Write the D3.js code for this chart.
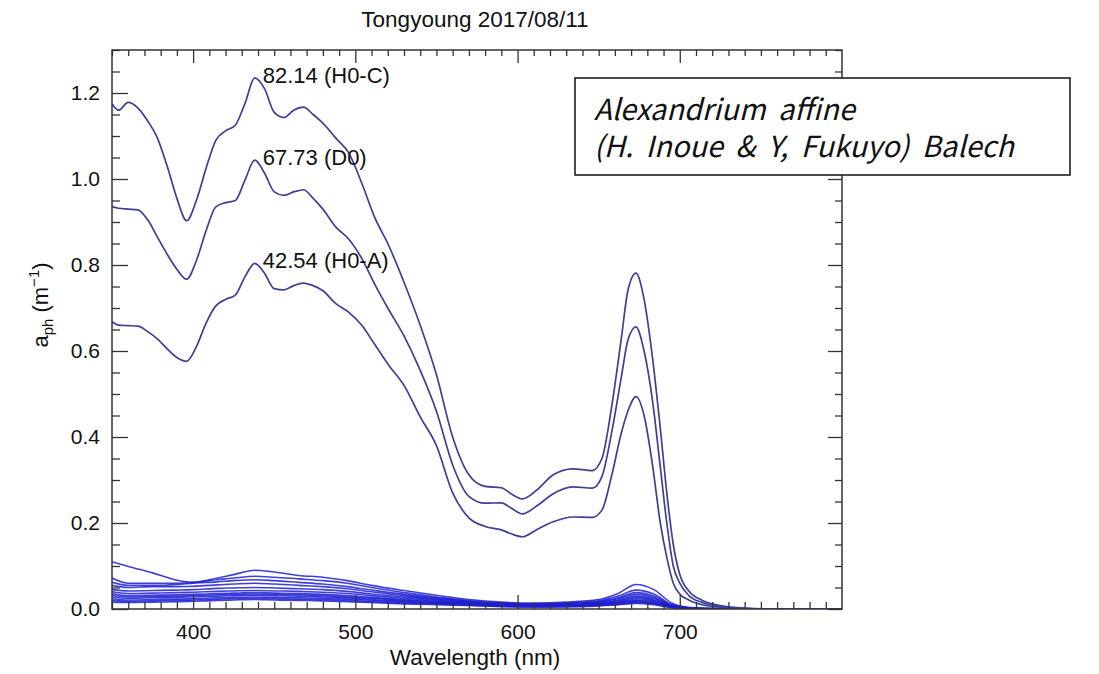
<!DOCTYPE html>
<html>
<head>
<meta charset="utf-8">
<script src="https://cdn.jsdelivr.net/npm/d3@7"></script>
<style>
body { margin: 0; background: #fff; }
text { font-family: "Liberation Sans", Arial, Helvetica, sans-serif; fill: #111; }
.tick line { stroke: #333; stroke-width: 1.3; }
</style>
</head>
<body>
<div id="chart"></div>
<script>
// wavelength grid (nm) used by the three big spectra
const wavelengths = [350,354,360,366,372,378,384,390,396,402,408,414,420,426,432,438,444,450,456,462,468,474,480,488,496,504,512,520,530,540,550,560,570,580,590,596,603,612,622,634,646,652,658,664,668,673,678,683,688,692,696,700,706,714,725,740,760,800];

// a_ph values
const h0c = [1.175,1.16,1.178,1.165,1.135,1.095,1.03,0.955,0.903,0.95,1.025,1.09,1.112,1.125,1.176,1.235,1.21,1.155,1.143,1.16,1.167,1.15,1.13,1.095,1.06,0.99,0.91,0.85,0.76,0.66,0.545,0.40,0.312,0.285,0.282,0.268,0.256,0.277,0.312,0.326,0.322,0.35,0.47,0.63,0.74,0.781,0.72,0.59,0.42,0.27,0.15,0.08,0.04,0.02,0.008,0.002,0,0];
const d0 = [0.936,0.932,0.93,0.928,0.905,0.865,0.825,0.79,0.767,0.81,0.88,0.935,0.945,0.95,0.998,1.044,1.014,0.97,0.962,0.97,0.975,0.955,0.93,0.888,0.86,0.815,0.755,0.70,0.635,0.555,0.46,0.335,0.262,0.246,0.247,0.235,0.221,0.24,0.268,0.284,0.281,0.308,0.41,0.54,0.625,0.656,0.60,0.49,0.33,0.2,0.1,0.06,0.03,0.015,0.006,0.001,0,0];
const h0a = [0.668,0.66,0.659,0.658,0.645,0.628,0.605,0.585,0.576,0.61,0.665,0.705,0.72,0.73,0.773,0.804,0.781,0.745,0.742,0.752,0.758,0.752,0.74,0.71,0.69,0.66,0.615,0.57,0.52,0.447,0.38,0.27,0.212,0.192,0.184,0.175,0.168,0.185,0.203,0.214,0.213,0.23,0.31,0.41,0.46,0.494,0.45,0.34,0.2,0.12,0.06,0.035,0.02,0.01,0.004,0.001,0,0];
const bigSeries = [h0c, d0, h0a];
const bigLabels = ["82.14 (H0-C)", "67.73 (D0)", "42.54 (H0-A)"];

// the low-concentration stations
const lowWavelengths = [350,360,375,390,400,415,425,438,450,465,480,495,510,530,550,570,590,610,630,650,662,673,684,695,705,720,750,800];
const lowSeries = [
  [0.110,0.099,0.084,0.067,0.062,0.072,0.080,0.090,0.086,0.078,0.074,0.066,0.055,0.043,0.032,0.022,0.016,0.014,0.016,0.022,0.036,0.057,0.045,0.014,0.004,0.001,0,0],
  [0.072,0.060,0.060,0.060,0.062,0.068,0.072,0.076,0.074,0.070,0.066,0.060,0.050,0.038,0.028,0.019,0.014,0.012,0.014,0.019,0.030,0.044,0.035,0.010,0.003,0.001,0,0],
  [0.062,0.055,0.055,0.057,0.060,0.063,0.066,0.068,0.066,0.062,0.058,0.052,0.044,0.034,0.026,0.018,0.013,0.011,0.013,0.017,0.026,0.038,0.030,0.009,0.003,0.001,0,0],
  [0.055,0.050,0.052,0.052,0.053,0.056,0.058,0.060,0.058,0.055,0.052,0.047,0.040,0.031,0.024,0.017,0.012,0.010,0.012,0.016,0.024,0.034,0.027,0.008,0.002,0.001,0,0],
  [0.045,0.042,0.043,0.044,0.045,0.048,0.049,0.050,0.049,0.047,0.045,0.041,0.035,0.028,0.022,0.016,0.011,0.009,0.011,0.014,0.021,0.030,0.024,0.007,0.002,0,0,0],
  [0.040,0.036,0.037,0.038,0.039,0.041,0.042,0.043,0.042,0.041,0.039,0.036,0.031,0.025,0.020,0.014,0.010,0.009,0.010,0.013,0.019,0.027,0.021,0.006,0.002,0,0,0],
  [0.036,0.031,0.032,0.033,0.034,0.036,0.037,0.038,0.037,0.036,0.034,0.031,0.027,0.022,0.018,0.013,0.009,0.008,0.009,0.012,0.017,0.024,0.019,0.006,0.002,0,0,0],
  [0.032,0.028,0.029,0.030,0.031,0.033,0.034,0.035,0.034,0.033,0.031,0.028,0.025,0.020,0.016,0.012,0.009,0.007,0.008,0.011,0.015,0.021,0.017,0.005,0.001,0,0,0],
  [0.028,0.025,0.026,0.027,0.028,0.030,0.031,0.032,0.031,0.030,0.028,0.026,0.022,0.018,0.015,0.011,0.008,0.007,0.008,0.010,0.014,0.019,0.015,0.005,0.001,0,0,0],
  [0.024,0.021,0.022,0.023,0.024,0.026,0.027,0.028,0.027,0.026,0.025,0.023,0.020,0.016,0.013,0.010,0.007,0.006,0.007,0.009,0.012,0.017,0.013,0.004,0.001,0,0,0],
  [0.020,0.018,0.019,0.020,0.021,0.023,0.024,0.025,0.024,0.023,0.022,0.020,0.017,0.014,0.012,0.009,0.006,0.005,0.006,0.008,0.011,0.015,0.012,0.004,0.001,0,0,0],
  [0.016,0.015,0.016,0.017,0.018,0.020,0.021,0.022,0.021,0.020,0.019,0.017,0.015,0.012,0.010,0.008,0.006,0.005,0.005,0.007,0.010,0.013,0.010,0.003,0.001,0,0,0]
];

const xTicks = [400, 500, 600, 700];
const yTicks = [0, 0.2, 0.4, 0.6, 0.8, 1.0, 1.2];
const legendLines = ["Alexandrium affine", "(H. Inoue & Y, Fukuyo) Balech"];

const width = 1099, height = 674;
const plotLeft = 112, plotRight = 842, plotTop = 50, plotBottom = 609;

const svg = d3.select("#chart")
    .append("svg")
    .attr("width", width)
    .attr("height", height);

const x = d3.scaleLinear().domain([350, 800]).range([plotLeft, plotRight]);
const y = d3.scaleLinear().domain([0, 1.3]).range([plotBottom, plotTop]);

const xMinor = d3.range(350, 801, 10).filter(v => v % 100 !== 0);
const yMinor = d3.range(0, 1.31, 0.05).map(v => +v.toFixed(2)).filter(v => Math.round(v * 100) % 20 !== 0);

svg.append("clipPath").attr("id", "plot-clip")
  .append("rect").attr("x", plotLeft).attr("y", plotTop)
  .attr("width", plotRight - plotLeft).attr("height", plotBottom - plotTop);

// title
svg.append("text")
    .attr("x", 475).attr("y", 27)
    .attr("text-anchor", "middle")
    .style("font-size", "22.5px")
    .text("Tongyoung 2017/08/11");

// curves
const line = d3.line()
    .x(d => x(d[0]))
    .y(d => y(d[1]))
    .curve(d3.curveMonotoneX);

const curves = svg.append("g").attr("clip-path", "url(#plot-clip)");

lowSeries.forEach(s => {
  curves.append("path")
      .attr("d", line(lowWavelengths.map((w, i) => [w, s[i]])))
      .attr("fill", "none")
      .attr("stroke", "#1f1fd2")
      .attr("stroke-opacity", 0.85)
      .attr("stroke-width", 1.6);
});

bigSeries.forEach(s => {
  curves.append("path")
      .attr("d", line(wavelengths.map((w, i) => [w, s[i]])))
      .attr("fill", "none")
      .attr("stroke", "#3f3f96")
      .attr("stroke-width", 1.7);
});

// peak labels near the 438 nm maximum
bigSeries.forEach((s, i) => {
  const peak = d3.max(s);
  svg.append("text")
      .attr("x", x(438) + 8)
      .attr("y", y(peak) + 5)
      .style("font-size", "22px")
      .text(bigLabels[i]);
});

// axes: inward ticks on all four sides
function tidy(g) { g.select(".domain").remove(); }

svg.append("g").attr("transform", `translate(0,${plotBottom})`)
    .call(d3.axisBottom(x).tickValues(xMinor).tickSize(-7).tickFormat("")).call(tidy);
svg.append("g").attr("transform", `translate(0,${plotBottom})`)
    .call(d3.axisBottom(x).tickValues(xTicks).tickSize(-14).tickPadding(15).tickFormat(d3.format("d")))
    .call(tidy)
    .selectAll("text").style("font-size", "21px").attr("fill", "#111");

svg.append("g").attr("transform", `translate(0,${plotTop})`)
    .call(d3.axisTop(x).tickValues(xMinor).tickSize(-6).tickFormat("")).call(tidy);
svg.append("g").attr("transform", `translate(0,${plotTop})`)
    .call(d3.axisTop(x).tickValues(xTicks).tickSize(-13).tickFormat("")).call(tidy);

svg.append("g").attr("transform", `translate(${plotLeft},0)`)
    .call(d3.axisLeft(y).tickValues(yMinor).tickSize(-8).tickFormat("")).call(tidy);
svg.append("g").attr("transform", `translate(${plotLeft},0)`)
    .call(d3.axisLeft(y).tickValues(yTicks).tickSize(-16).tickPadding(12).tickFormat(d3.format(".1f")))
    .call(tidy)
    .selectAll("text").style("font-size", "21px").attr("fill", "#111");

svg.append("g").attr("transform", `translate(${plotRight},0)`)
    .call(d3.axisRight(y).tickValues(yMinor).tickSize(-7).tickFormat("")).call(tidy);
svg.append("g").attr("transform", `translate(${plotRight},0)`)
    .call(d3.axisRight(y).tickValues(yTicks).tickSize(-14).tickFormat("")).call(tidy);

// frame
svg.append("rect")
    .attr("x", plotLeft).attr("y", plotTop)
    .attr("width", plotRight - plotLeft).attr("height", plotBottom - plotTop)
    .attr("fill", "none")
    .attr("stroke", "#333")
    .attr("stroke-width", 1.5);

// axis titles
svg.append("text")
    .attr("x", 475).attr("y", 665)
    .attr("text-anchor", "middle")
    .style("font-size", "22.5px")
    .text("Wavelength (nm)");

const yLabel = svg.append("text")
    .attr("transform", "translate(48,305) rotate(-90)")
    .attr("text-anchor", "middle")
    .style("font-size", "22px");
yLabel.append("tspan").text("a");
yLabel.append("tspan").attr("dy", 5).style("font-size", "15px").text("ph");
yLabel.append("tspan").attr("dy", -5).text(" (m");
yLabel.append("tspan").attr("dy", -9).style("font-size", "15px").text("\u22121");
yLabel.append("tspan").attr("dy", 9).text(")");

// species box
svg.append("rect")
    .attr("x", 575).attr("y", 78)
    .attr("width", 495).attr("height", 97)
    .attr("fill", "#fff")
    .attr("stroke", "#111")
    .attr("stroke-width", 1.5);

const legendText = svg.append("text")
    .attr("x", 594).attr("y", 120)
    .style("font-family", "'Noto Sans CJK KR', 'Noto Sans', sans-serif")
    .style("font-style", "italic")
    .style("font-size", "29px")
    .style("word-spacing", "6px");
legendLines.forEach((t, i) => {
  legendText.append("tspan")
      .attr("x", 594)
      .attr("dy", i === 0 ? 0 : 37)
      .text(t);
});
</script>
</body>
</html>
